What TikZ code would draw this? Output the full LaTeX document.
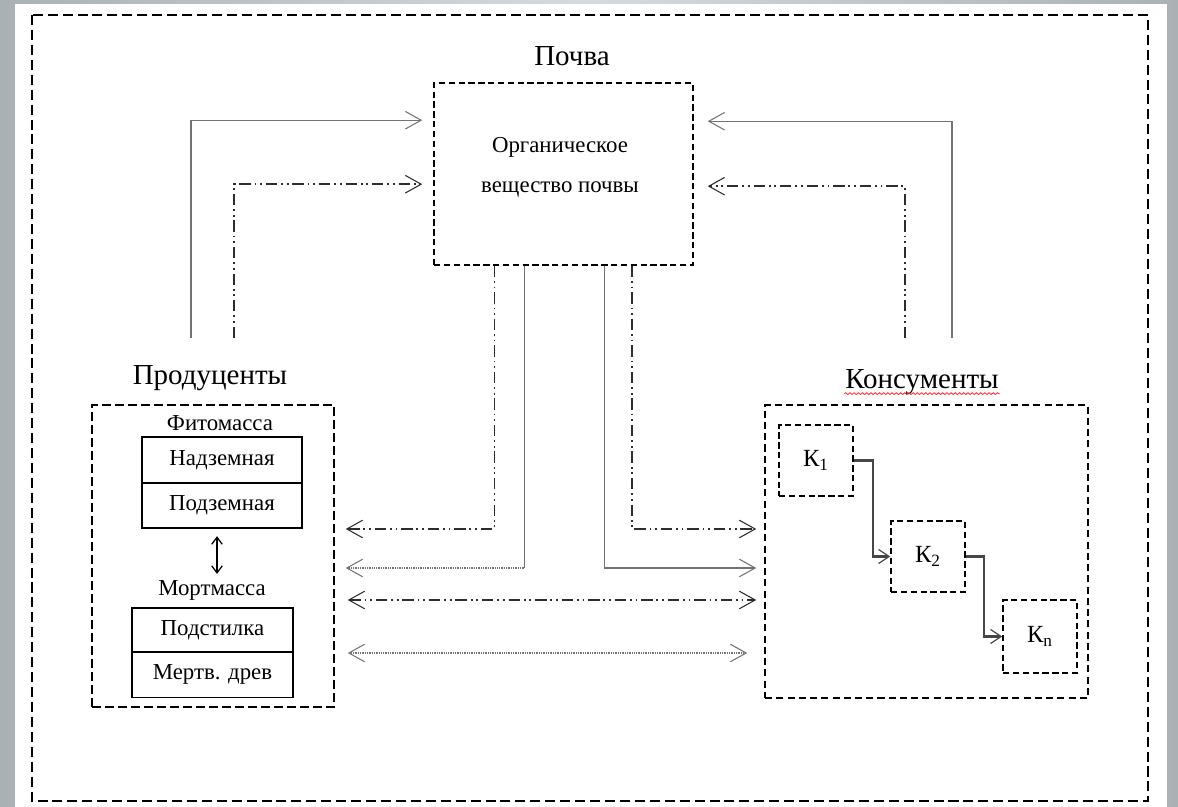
\documentclass[tikz,border=0pt]{standalone}
\usepackage{fontspec}
\setmainfont{Liberation Serif}
\usetikzlibrary{positioning,arrows.meta,decorations.pathmorphing}

\definecolor{bgdark}{RGB}{170,177,180}
\definecolor{bglight}{RGB}{214,218,220}
\definecolor{linegray}{RGB}{115,115,115}
\definecolor{dashgray}{RGB}{45,45,45}
\definecolor{kgray}{RGB}{70,70,70}

\begin{document}
\begin{tikzpicture}[x=0.02cm, y=-0.02cm,
  onehead/.style={-{Straight Barb[length=9pt,width=10pt,line width=0.6pt]}},
  twohead/.style={{Straight Barb[length=9pt,width=10pt,line width=0.6pt]}-{Straight Barb[length=9pt,width=10pt,line width=0.6pt]}},
  solidflow/.style={linegray, line width=0.6pt},
  dotflow/.style={linegray, line width=0.7pt, dash pattern=on 0.5pt off 0.5pt},
  ddflow/.style={dashgray, line width=0.8pt, dash pattern=on 6.5pt off 2.2pt on 1pt off 2.2pt on 1pt off 2.2pt},
  kflow/.style={draw=kgray, line width=1.3pt, -{Straight Barb[length=6pt,width=8pt,line width=0.7pt]}},
  bigbox/.style={draw, line width=0.9pt, inner sep=0pt},
  kbox/.style={draw, line width=0.9pt, dash pattern=on 3.6pt off 2pt, minimum width=1.48cm, minimum height=1.42cm, font=\fontsize{14}{16}\selectfont},
  cell/.style={draw, line width=0.9pt, minimum height=0.91cm, inner sep=0pt, outer sep=0pt, font=\fontsize{13}{15}\selectfont},
  headtxt/.style={font=\fontsize{16.5}{19}\selectfont},
  smalltxt/.style={font=\fontsize{13}{15}\selectfont},
]
  \useasboundingbox (0,0) rectangle (1178,807);
  \shade[left color=bgdark, right color=bgdark, middle color=bglight] (0,0) rectangle (1178,807);
  \fill[white] (15,4) rectangle (1167,807);
  \draw[line width=0.9pt, dash pattern=on 5.7pt off 2.8pt] (32,15) rectangle (1148,801);

  % soil
  \node[headtxt] (soiltitle) at (572,56) {Почва};
  \node[bigbox, dash pattern=on 3.6pt off 2pt, minimum width=5.18cm, minimum height=3.64cm] (soil) at (563.5,174) {};
  \node[smalltxt, align=center] (soiltxt) at (560,167) {Органическое\\[0.27cm]вещество почвы};

  % producers
  \node[headtxt] (prodtitle) at (210,378) {Продуценты};
  \node[bigbox, dash pattern=on 5pt off 2.4pt, minimum width=4.84cm, minimum height=6.04cm] (prod) at (213,556) {};
  \node[smalltxt] (fitotitle) at (220,423) {Фитомасса};
  \node[cell, minimum width=3.2cm] (nadz) at (222,460) {Надземная};
  \node[cell, minimum width=3.2cm, below=0pt of nadz] (podz) {Подземная};
  \node[smalltxt] (morttitle) at (212,590) {Мортмасса};
  \node[cell, minimum width=3.22cm, minimum height=0.88cm] (podst) at (212.5,630) {Подстилка};
  \node[cell, minimum width=3.22cm, below=0pt of podst] (mertv) {Мертв. древ};
  \draw[line width=0.7pt, {Straight Barb[length=4pt,width=6pt]}-{Straight Barb[length=4pt,width=6pt]}, shorten <=0.16cm]
    ([xshift=-0.1cm]podz.south) -- ([xshift=-0.1cm]podz.south |- morttitle.north);

  % consumers
  \node[headtxt] (konstitle) at (922,382) {Консументы};
  \draw[red!80!white, line width=0.5pt, decorate, decoration={snake, amplitude=0.5pt, segment length=2.4pt}]
    ([yshift=-3pt,xshift=3pt]konstitle.base west) -- ([yshift=-3pt,xshift=-3pt]konstitle.base east);
  \node[bigbox, dash pattern=on 4pt off 2.4pt, minimum width=6.46cm, minimum height=5.86cm] (kons) at (926.5,551.5) {};
  \node[kbox] (k1) at (816,460.5) {К\textsubscript{1}};
  \node[kbox] (k2) at (928,556.5) {К\textsubscript{2}};
  \node[kbox, minimum height=1.46cm] (kn) at (1040,636.5) {К\textsubscript{n}};
  \draw[kflow] (k1.east) -- ++(19,0) |- (k2.west);
  \draw[kflow] (k2.east) -- ++(18,0) |- (kn.west);

  % flows up to the soil
  \coordinate (pl1) at (191,338);
  \coordinate (pl2) at (234,338);
  \coordinate (pr1) at (952,338);
  \coordinate (pr2) at (905,338);
  \draw[solidflow, onehead, shorten >=0.22cm] (pl1) |- ([yshift=-0.76cm]soil.north west);
  \draw[ddflow, onehead, shorten >=0.22cm] (pl2) |- ([yshift=-2.04cm]soil.north west);
  \draw[solidflow, onehead, shorten >=0.28cm] (pr1) |- ([yshift=-0.78cm]soil.north east);
  \draw[ddflow, onehead, shorten >=0.28cm] (pr2) |- ([yshift=-2.08cm]soil.north east);

  % flows down from the soil
  \coordinate (s1) at ([xshift=1.22cm]soil.south west);
  \coordinate (s2) at ([xshift=1.82cm]soil.south west);
  \coordinate (s3) at ([xshift=3.42cm]soil.south west);
  \coordinate (s4) at ([xshift=3.98cm]soil.south west);
  \coordinate (lv1) at (0,529);
  \coordinate (lv2) at (0,568);
  \coordinate (lv3) at (0,600);
  \coordinate (lv4) at (0,653);
  \draw[ddflow, onehead, shorten >=0.22cm] (s1) |- (prod.east |- lv1);
  \draw[solidflow] (s2) -- (s2 |- lv2);
  \draw[dotflow, onehead, shorten >=0.22cm] (s2 |- lv2) -- (prod.east |- lv2);
  \draw[solidflow, onehead, shorten >=0.16cm] (s3) |- (kons.west |- lv2);
  \draw[ddflow, onehead, shorten >=0.16cm] (s4) |- (kons.west |- lv1);

  % exchange between producers and consumers
  \draw[ddflow, twohead, shorten <=0.26cm, shorten >=0.16cm] (prod.east |- lv3) -- (kons.west |- lv3);
  \draw[dotflow, twohead, shorten <=0.26cm, shorten >=0.34cm] (prod.east |- lv4) -- (kons.west |- lv4);
\end{tikzpicture}
\end{document}
